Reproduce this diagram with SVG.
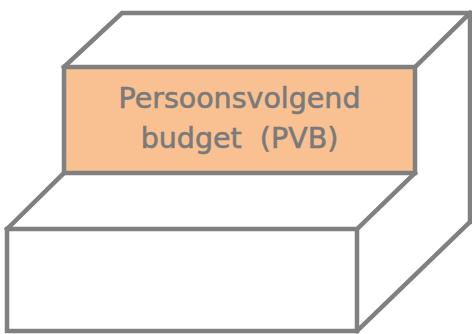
<svg xmlns="http://www.w3.org/2000/svg" width="472" height="334" viewBox="0 0 472 334">
<style>
.face{fill:#ffffff;stroke:none}
.line{fill:none;stroke:#808080;stroke-width:4.5;stroke-linejoin:miter;stroke-linecap:square}
.front{fill:#f9c191;stroke:#808080;stroke-width:4.5}
.lbl{font-family:"DejaVu Sans",Verdana,sans-serif;font-size:28.5px;fill:#7a7a7a;stroke:#7a7a7a;stroke-width:0.6;text-anchor:middle;white-space:pre}
</style>
<rect width="472" height="334" fill="#ffffff"/>
<g id="upper-block">
<polyline class="line" points="64,67 122,13 470,13 470,222"/>
<line class="line" x1="415" y1="67" x2="470" y2="13"/>
</g>
<g id="lower-block">
<polyline class="line" points="7,229 64,173"/>
<polyline class="line" points="357,229 415,173"/>
<polyline class="line" points="470,222 357,331"/>
<rect class="line" x="7" y="229" width="350" height="102"/>
</g>
<g id="pvb">
<rect class="front" x="64" y="67" width="351" height="106"/>
<text class="lbl" x="239.5" y="108">Persoonsvolgend</text>
<text class="lbl" x="239.5" y="148" xml:space="preserve">budget  (PVB)</text>
</g>
<g id="connectors"/>
</svg>
